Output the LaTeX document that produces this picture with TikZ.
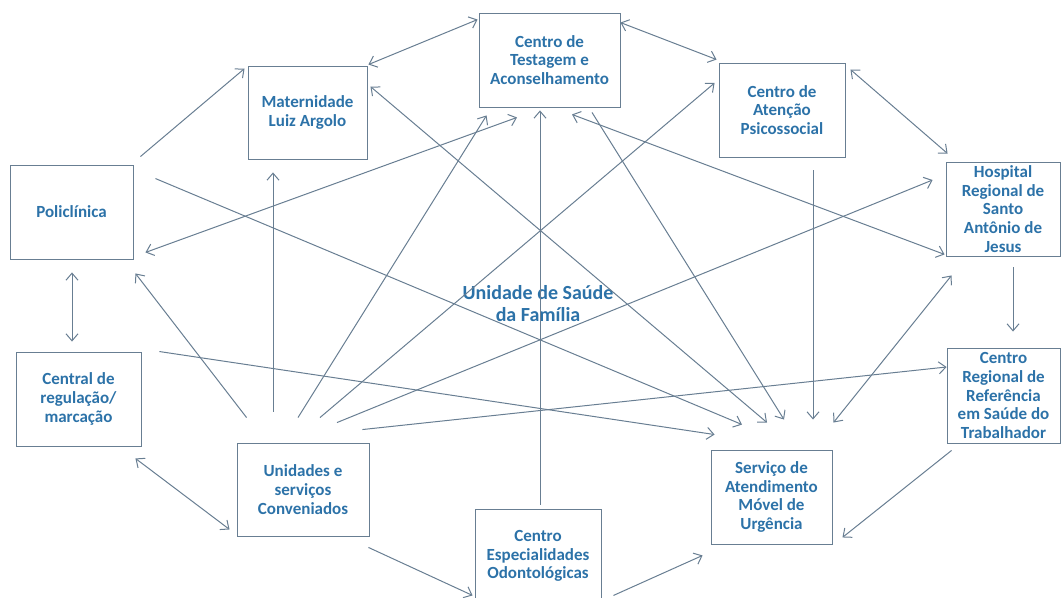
\documentclass[tikz,border=0pt]{standalone}
\usepackage{fontspec}
\setmainfont{Carlito}
\usepackage{tikz}
\usetikzlibrary{arrows.meta}
\definecolor{txtblue}{RGB}{44,114,168}
\definecolor{lnblue}{RGB}{104,126,146}

\begin{document}
\begin{tikzpicture}[x=1pt,y=1pt,>={Straight Barb[length=7pt,width=12pt]},
  bx/.style={draw=lnblue,line width=0.9pt,text=txtblue,align=center,inner sep=0pt,font=\fontsize{17}{18.8}\selectfont\bfseries},
  ar/.style={->,line width=1pt,lnblue},
  dar/.style={<->,line width=1pt,lnblue}]
\useasboundingbox (0,0) rectangle (1062,597);
% boxes
\node[bx,minimum width=123pt,minimum height=94pt] (poli) at (71.5,385) {Policlínica};
\node[bx,minimum width=119pt,minimum height=93pt] (mat) at (307.5,484.5) {Maternidade\\Luiz Argolo};
\node[bx,minimum width=141pt,minimum height=94pt] (cta) at (549.5,537) {Centro de\\Testagem e\\Aconselhamento};
\node[bx,minimum width=126pt,minimum height=94pt] (caps) at (782,487) {Centro de\\Atenção\\Psicossocial};
\node[bx,minimum width=114pt,minimum height=94pt] (hosp) at (1003,388) {Hospital\\Regional de\\Santo\\Antônio de\\Jesus};
\node[bx,minimum width=125pt,minimum height=94pt] (central) at (78.5,198) {Central de\\regulação/\\marcação};
\node[bx,minimum width=132pt,minimum height=93pt] (unid) at (303,107.5) {Unidades e\\serviços\\Conveniados};
\node[bx,minimum width=126pt,minimum height=94pt] (odonto) at (538,41) {Centro\\Especialidades\\Odontológicas};
\node[bx,minimum width=121pt,minimum height=94pt] (samu) at (771.5,100) {Serviço de\\Atendimento\\Móvel de\\Urgência};
\node[bx,minimum width=113pt,minimum height=95pt] (crst) at (1003.5,201.5) {Centro\\Regional de\\Referência\\em Saúde do\\Trabalhador};
\node[text=txtblue,align=center,font=\fontsize{20}{22}\selectfont\bfseries] (usf) at (538,293) {Unidade de Saúde\\da Família};
% outer ring
\draw[ar] ([shift={(7,8)}]poli.north east) -- ([shift={(-3,-3)}]mat.north west);
\draw[dar] ([shift={(1,1)}]mat.north east) -- ([shift={(-1,-7)}]cta.north west);
\draw[dar] ([shift={(0,-10)}]cta.north east) -- ([shift={(-2,3)}]caps.north west);
\draw[dar] ([shift={(5,-7)}]caps.north east) -- ([shift={(2,8)}]hosp.north west);
\draw[ar] ([shift={(10,-11)}]hosp.south) -- ([shift={(9.5,16)}]crst.north);
\draw[ar] ([shift={(5,-7)}]crst.south west) -- ([shift={(10,7)}]samu.south east);
\draw[ar] ([shift={(12,8)}]odonto.south east) -- ([shift={(-8,-11)}]samu.south west);
\draw[ar] ([shift={(-1,-11)}]unid.south east) -- ([shift={(-2,8)}]odonto.south west);
\draw[dar] ([shift={(-6,-12)}]central.south east) -- ([shift={(-7,7)}]unid.south west);
\draw[dar] ([shift={(0.5,-13)}]poli.south) -- ([shift={(-6.5,10)}]central.north);
% crossing lines
\draw[ar] ([shift={(22,-14)}]poli.north east) -- ([shift={(-29.5,25)}]samu.north);
\draw[dar] ([shift={(12,7)}]poli.south east) -- ([shift={(-32.5,-10)}]cta.south);
\draw[dar] ([shift={(3,-21)}]mat.north east) -- ([shift={(-4.5,27)}]samu.north);
\draw[ar] ([shift={(42.5,-5)}]cta.south) -- ([shift={(12.5,30)}]samu.north);
\draw[ar] ([shift={(31,-13)}]caps.south) -- ([shift={(41.5,30)}]samu.north);
\draw[dar] ([shift={(6,-19)}]hosp.south west) -- ([shift={(1,27)}]samu.north east);
\draw[dar] ([shift={(22.5,-7)}]cta.south) -- ([shift={(-1,2)}]hosp.south west);
\draw[ar] ([shift={(18,0)}]central.north east) -- ([shift={(4,15)}]samu.north west);
\draw[ar] ([shift={(10,25)}]unid.north west) -- ([shift={(2,-14)}]poli.south east);
\draw[ar] ([shift={(-30,31)}]unid.north) -- ([shift={(-34.5,-13)}]mat.south);
\draw[ar] ([shift={(-5,25)}]unid.north) -- ([shift={(8,-8)}]cta.south west);
\draw[ar] ([shift={(17,25)}]unid.north) -- ([shift={(-4,27)}]caps.west);
\draw[ar] ([shift={(34,20)}]unid.north) -- ([shift={(-13,29)}]hosp.west);
\draw[ar] ([shift={(-7,13)}]unid.north east) -- ([shift={(0,28.5)}]crst.west);
\draw[ar] ([shift={(2,4)}]odonto.north) -- ([shift={(-9.5,-3)}]cta.south);
\end{tikzpicture}
\end{document}
